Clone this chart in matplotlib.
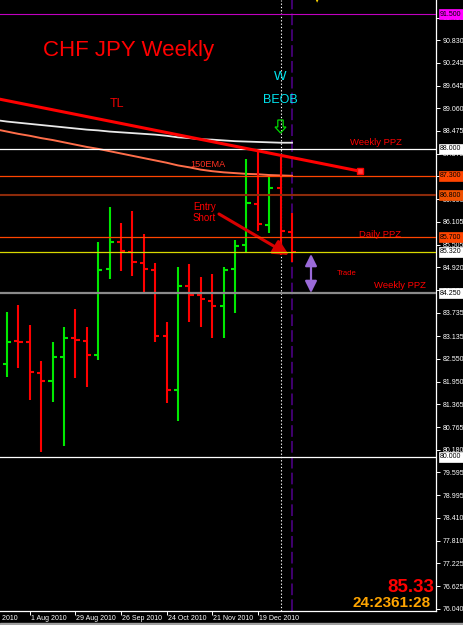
import matplotlib
matplotlib.use('Agg')
import matplotlib.pyplot as plt
import matplotlib.transforms as mtransforms
from matplotlib.patches import Rectangle, Polygon

plt.rcParams['font.family'] = ['Liberation Sans', 'DejaVu Sans']

W, H, DPI = 464, 625, 100

# ---- weekly OHLC bars (bar 0 = week of 18 Jul 2010) ----
opens  = [82.41, 83.00, 82.98, 82.17, 81.97, 82.59, 83.08, 83.01, 82.64, 84.88,
          85.58, 85.32, 85.03, 84.85, 83.14, 81.73, 84.44, 84.20, 84.05, 83.92,
          84.88, 85.50, 86.57, 86.02, 86.98, 85.84]
highs  = [83.76, 83.94, 83.42, 82.49, 82.98, 83.37, 83.84, 83.37, 85.58, 86.49,
          86.07, 86.39, 85.79, 85.03, 83.50, 84.93, 85.01, 84.67, 84.75, 84.93,
          85.63, 87.74, 87.92, 87.27, 87.79, 86.33]
lows   = [82.07, 82.30, 81.47, 80.12, 81.42, 80.28, 82.04, 81.81, 82.51, 84.62,
          84.83, 84.70, 84.23, 82.98, 81.39, 80.93, 83.50, 83.37, 83.08, 83.08,
          83.73, 85.32, 85.87, 85.81, 85.25, 85.06]
closes = [82.98, 82.97, 82.20, 81.97, 82.59, 83.08, 83.03, 82.64, 84.85, 85.58,
          85.35, 85.06, 84.88, 83.14, 81.73, 84.44, 84.20, 84.10, 83.92, 84.85,
          85.48, 86.59, 86.05, 86.98, 85.87, 85.32]

# moving averages, bar -1 .. 25
ma_white = [88.75, 88.71, 88.68, 88.65, 88.62, 88.59, 88.56, 88.53, 88.50, 88.48,
            88.45, 88.43, 88.41, 88.39, 88.37, 88.34, 88.30, 88.28, 88.25, 88.24,
            88.22, 88.20, 88.19, 88.18, 88.17, 88.16, 88.16]
ema150 = [88.51, 88.45, 88.39, 88.34, 88.28, 88.23, 88.17, 88.11, 88.05, 88.00,
          87.94, 87.88, 87.82, 87.76, 87.70, 87.64, 87.57, 87.52, 87.46, 87.42,
          87.39, 87.37, 87.35, 87.34, 87.32, 87.31, 87.30]

# trend line anchors (bar index, price)
tl_x = [-0.61, 30.96]
tl_y = [89.29, 87.42]

# horizontal levels
levels       = [91.500, 88.000, 87.300, 86.800, 85.700, 85.320, 84.250, 80.000]
level_colors = ['#c000c0', '#ffffff', '#ff4500', '#8c2a0a', '#ff4500', '#d8d800', '#8a8a8a', '#ffffff']
level_boxes  = ['#ff00ff', '#ffffff', '#ff4500', '#f05000', '#ff4500', '#ffffff', '#ffffff', '#ffffff']
level_lw     = [0.8, 0.9, 0.9, 1.5, 0.9, 0.9, 1.6, 0.9]

# vertical markers (bar index)
vline_dotted_bar = 24
vline_dashed_bar = 25

# axis ticks
ytick_vals = [76.040, 76.625, 77.225, 77.810, 78.410, 78.995, 79.595, 80.180, 80.765,
              81.365, 81.950, 82.550, 83.135, 83.735, 84.320, 84.920, 85.505, 86.105,
              86.690, 87.290, 87.875, 88.475, 89.060, 89.645, 90.245, 90.830, 91.415]
xtick_pos = [-2, 2, 6, 10, 14, 18, 22]
xtick_labels = ['4 Jul 2010', '1 Aug 2010', '29 Aug 2010', '26 Sep 2010',
                '24 Oct 2010', '21 Nov 2010', '19 Dec 2010']

fig = plt.figure(figsize=(W / DPI, H / DPI), dpi=DPI, facecolor='black')
ax = fig.add_axes([0, 14 / H, 436 / W, 611 / H])
ax.set_facecolor('black')
ax.set_xlim(-0.614, 37.63)
ax.set_ylim(75.987, 91.870)

for s in ['left', 'top']:
    ax.spines[s].set_visible(False)
for s in ['right', 'bottom']:
    ax.spines[s].set_color('white')
    ax.spines[s].set_linewidth(0.9)

# moving averages
ma_x = list(range(-1, len(ma_white) - 1))
ax.plot(ma_x, ema150, color='#ff6e4a', lw=1.4, zorder=2)
ax.plot(ma_x, ma_white, color='#e8e8e8', lw=1.3, zorder=2)

# bars
green, red = '#00e800', '#ff0000'
xs = list(range(len(opens)))
cols = [green if c > o else red for o, c in zip(opens, closes)]
ax.vlines(xs, lows, highs, colors=cols, lw=1.5, zorder=3)
ax.hlines(opens, [x - 0.36 for x in xs], xs, colors=cols, lw=1.5, zorder=3)
ax.hlines(closes, xs, [x + 0.36 for x in xs], colors=cols, lw=1.5, zorder=3)

# horizontal levels
for lv, c, lw in zip(levels, level_colors, level_lw):
    ax.axhline(lv, color=c, lw=lw, zorder=4)

# vertical lines
ax.axvline(vline_dotted_bar, color='white', ls=(0, (1.2, 1.8)), lw=0.8, zorder=1)
ax.axvline(vline_dashed_bar, color='#4b0082', ls=(0, (7, 2.5)), lw=1.2, zorder=1)

# trend line
ax.plot(tl_x, tl_y, color='#ff0000', lw=2.2, zorder=5)
ax.plot(tl_x[-1], tl_y[-1], marker='s', ms=4.2, mfc='#ff4040', mec='#ff0000', zorder=6)

# y axis on right
ax.yaxis.tick_right()
ax.set_yticks(ytick_vals)
ax.set_yticklabels([f'{v:.3f}' for v in ytick_vals])
ax.tick_params(axis='y', colors='white', length=3, width=0.7, labelsize=5, pad=2)

# x ticks
ax.set_xticks([p for p in xtick_pos if p >= -0.6])
ax.set_xticklabels([])
ax.tick_params(axis='x', colors='white', length=3, width=0.7)
xtrans = mtransforms.offset_copy(
    mtransforms.blended_transform_factory(ax.transData, ax.transAxes),
    fig=fig, x=1, y=-4, units='dots')
for p, lab in zip(xtick_pos, xtick_labels):
    ax.text(p, 0, lab, transform=xtrans, ha='left', va='top', fontsize=5,
            color='white', clip_on=False)

# price boxes on axis
ltrans = mtransforms.offset_copy(
    mtransforms.blended_transform_factory(ax.transAxes, ax.transData),
    fig=fig, x=4, y=0, units='dots')
for lv, bc in zip(levels, level_boxes):
    ax.text(1.0, lv, f'{lv:.3f}', transform=ltrans, ha='left', va='center',
            fontsize=5, color='black', clip_on=False, zorder=10,
            bbox=dict(boxstyle='square,pad=0.2', fc=bc, ec=bc, lw=0.5))


def fp(x, y):
    return (x / W, 1 - y / H)


fig.text(*fp(43, 56), 'CHF JPY Weekly', color='#ff0000', fontsize=16, va='baseline')
fig.text(*fp(110, 107), 'TL', color='#ee0000', fontsize=9, va='baseline')
fig.text(*fp(280.5, 80), 'W', color='#00e5f0', fontsize=9.5, ha='center', va='baseline')
fig.text(*fp(280.5, 103), 'BEOB', color='#00e5f0', fontsize=9, ha='center', va='baseline')

# hollow green down arrow (sell signal symbol)
arrow_px = [(277.8, 120), (283.2, 120), (283.2, 127), (286, 127), (280.5, 133),
            (275, 127), (277.8, 127)]
fig.patches.append(Polygon([fp(x, y) for x, y in arrow_px], closed=True,
                           transform=fig.transFigure, facecolor='none',
                           edgecolor='#00d800', lw=0.9))

fig.text(*fp(350, 145), 'Weekly PPZ', color='#ff0000', fontsize=6.8, va='baseline')
fig.text(*fp(190, 167), '150EMA', color='#ff3020', fontsize=6.6, va='baseline')
fig.text(*fp(193, 210), 'Entry', color='#ff0000', fontsize=7, va='baseline')
fig.text(*fp(193, 221), 'Short', color='#ff0000', fontsize=7, va='baseline')
fig.text(*fp(359, 237), 'Daily PPZ', color='#ff0000', fontsize=6.8, va='baseline')
fig.text(*fp(337, 275), 'Trade', color='#ff0000', fontsize=5.5, va='baseline')
fig.text(*fp(374, 288), 'Weekly PPZ', color='#ff0000', fontsize=6.8, va='baseline')
fig.text(*fp(434, 592), '85.33', color='#ff0000', fontsize=13.5, fontweight='bold',
         ha='right', va='baseline')
fig.text(*fp(431, 607), '24:2361:28', color='#ffa500', fontsize=11, fontweight='bold',
         ha='right', va='baseline')

# arrows
ax.annotate('', xy=fp(289, 255), xytext=fp(219, 214), xycoords='figure fraction',
            textcoords='figure fraction',
            arrowprops=dict(arrowstyle='-|>,head_length=0.9,head_width=0.45',
                            color='#d80000', lw=2.2, shrinkA=0, shrinkB=0))
ax.annotate('', xy=fp(311, 293), xytext=fp(311, 254), xycoords='figure fraction',
            textcoords='figure fraction',
            arrowprops=dict(arrowstyle='<|-|>,head_length=0.7,head_width=0.35',
                            color='#9a6ad8', lw=1.6, shrinkA=0, shrinkB=0))

# small yellow marker at top edge
fig.text(*fp(317, 1), '\u25bc', color='#ffd800', fontsize=4, ha='center', va='center',
         family=['DejaVu Sans'])

# bottom window strip
fig.patches.append(Rectangle((0, 0), 1, 2.5 / H, transform=fig.transFigure,
                             color='#a0a0a0'))

fig.savefig('out.png', dpi=DPI, facecolor='black')
